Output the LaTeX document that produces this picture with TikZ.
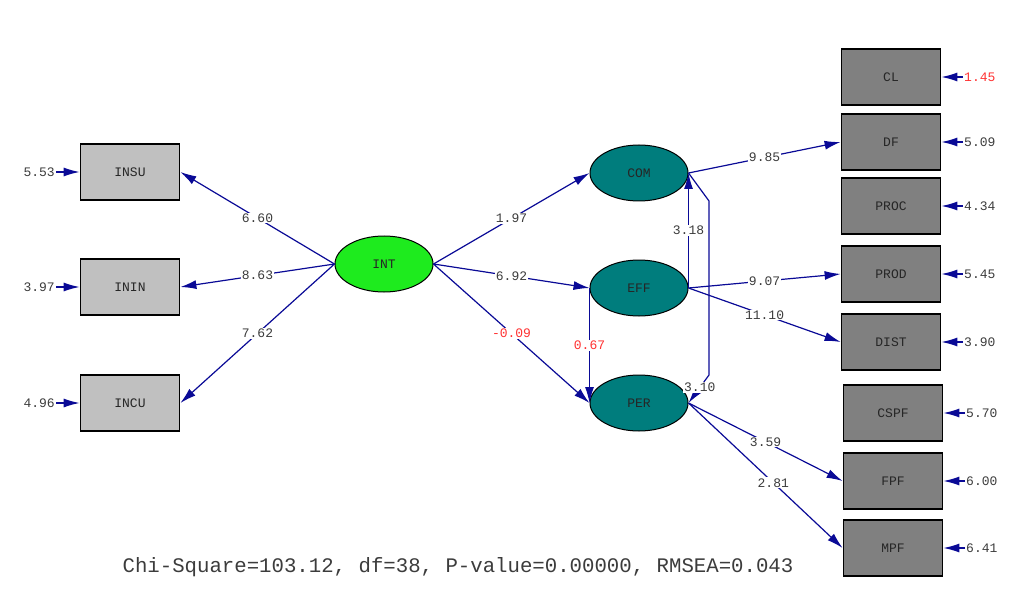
\documentclass[tikz,border=0pt]{standalone}
\usepackage{fontspec}
\setmonofont{Liberation Mono}
\usetikzlibrary{shapes.geometric,arrows.meta}
\definecolor{navyl}{RGB}{10,10,150}
\definecolor{lblc}{RGB}{60,60,60}
\definecolor{redl}{RGB}{255,50,50}
\definecolor{greenf}{RGB}{30,235,30}
\definecolor{tealf}{RGB}{0,125,125}
\definecolor{lgray}{RGB}{192,192,192}
\definecolor{dgray}{RGB}{128,128,128}
\tikzset{
  obsl/.style={draw=black,line width=1.8pt,fill=lgray,minimum width=99pt,minimum height=56pt,inner sep=0pt,font=\ttfamily\fontsize{13}{13}\selectfont,text=black!85},
  obsr/.style={obsl,fill=dgray},
  lat/.style={ellipse,draw=black,line width=1pt,minimum width=98pt,minimum height=56pt,inner sep=0pt,font=\ttfamily\fontsize{13}{13}\selectfont,text=black!85},
  conn/.style={draw=navyl,line width=1.2pt,-{Latex[length=16pt,width=9pt]}},
  lbl/.style={fill=white,inner sep=1pt,text=lblc,font=\ttfamily\fontsize{13}{13}\selectfont},
  rlbl/.style={lbl,text=redl},
  elbl/.style={inner sep=1pt,text=lblc,font=\ttfamily\fontsize{13}{13}\selectfont},
}
\begin{document}
\begin{tikzpicture}[x=1pt,y=-1pt]
\useasboundingbox (0,0) rectangle (1024,612);
% observed left
\node[obsl] (INSU) at (130,172) {INSU};
\node[obsl] (ININ) at (130,287) {ININ};
\node[obsl] (INCU) at (130,403) {INCU};
% latent
\node[lat,fill=greenf] (INT) at (384,264) {INT};
\node[lat,fill=tealf] (COM) at (639,173) {COM};
\node[lat,fill=tealf] (EFF) at (639,288) {EFF};
\node[lat,fill=tealf] (PER) at (639,403) {PER};
% observed right
\node[obsr] (CL) at (891,77) {CL};
\node[obsr] (DF) at (891,142) {DF};
\node[obsr] (PROC) at (891,206) {PROC};
\node[obsr] (PROD) at (891,274) {PROD};
\node[obsr] (DIST) at (891,342) {DIST};
\node[obsr] (CSPF) at (893,413) {CSPF};
\node[obsr] (FPF) at (893,481) {FPF};
\node[obsr] (MPF) at (893,548) {MPF};
% error terms left
\foreach \n/\v/\y in {INSU/5.53/172, ININ/3.97/287, INCU/4.96/403}{
  \coordinate (e\n) at (56,\y);
  \node[elbl,anchor=east] (t\n) at (e\n) {\v};
  \draw[conn] (e\n) -- (\n.west);
}
% error terms right
\foreach \n/\v/\y in {DF/5.09/142, PROC/4.34/206, PROD/5.45/274, DIST/3.90/342}{
  \coordinate (e\n) at (963,\y);
  \node[elbl,anchor=west] (t\n) at (e\n) {\v};
  \draw[conn] (e\n) -- (\n.east);
}
\foreach \n/\v/\y in {CSPF/5.70/413, FPF/6.00/481, MPF/6.41/548}{
  \coordinate (e\n) at (965,\y);
  \node[elbl,anchor=west] (t\n) at (e\n) {\v};
  \draw[conn] (e\n) -- (\n.east);
}
\coordinate (eCL) at (963,77);
\node[elbl,anchor=west,text=redl] (tCL) at (eCL) {1.45};
\draw[conn] (eCL) -- (CL.east);
% loadings INT
\draw[conn] (INT.west) -- node[lbl] {6.60} (INSU.east);
\draw[conn] (INT.west) -- node[lbl] {8.63} (ININ.east);
\draw[conn] (INT.west) -- node[lbl] {7.62} (INCU.east);
% structural
\draw[conn] (INT.east) -- node[lbl] {1.97} (COM.west);
\draw[conn] (INT.east) -- node[lbl] {6.92} (EFF.west);
\draw[conn] (INT.east) -- node[rlbl] {-0.09} (PER.west);
\draw[conn] (EFF.east) -- node[lbl] {3.18} (COM.east);
\draw[conn] (EFF.west) -- node[rlbl] {0.67} (PER.west);
\coordinate (b1) at (709,201);
\coordinate (b2) at (709,375);
\draw[conn] (COM.east) -- (b1) -- (b2) -- node[lbl,pos=0.45] {3.10} (PER.east);
% loadings right
\draw[conn] (COM.east) -- node[lbl] {9.85} (DF.west);
\draw[conn] (EFF.east) -- node[lbl] {9.07} (PROD.west);
\draw[conn] (EFF.east) -- node[lbl] {11.10} (DIST.west);
\draw[conn] (PER.east) -- node[lbl] {3.59} (FPF.west);
\draw[conn] (PER.east) -- node[lbl,pos=0.55] {2.81} (MPF.west);
% fit
\node[text=lblc,font=\ttfamily\fontsize{20.7}{21}\selectfont] (fit) at (458,567) {Chi-Square=103.12, df=38, P-value=0.00000, RMSEA=0.043};
\end{tikzpicture}
\end{document}
